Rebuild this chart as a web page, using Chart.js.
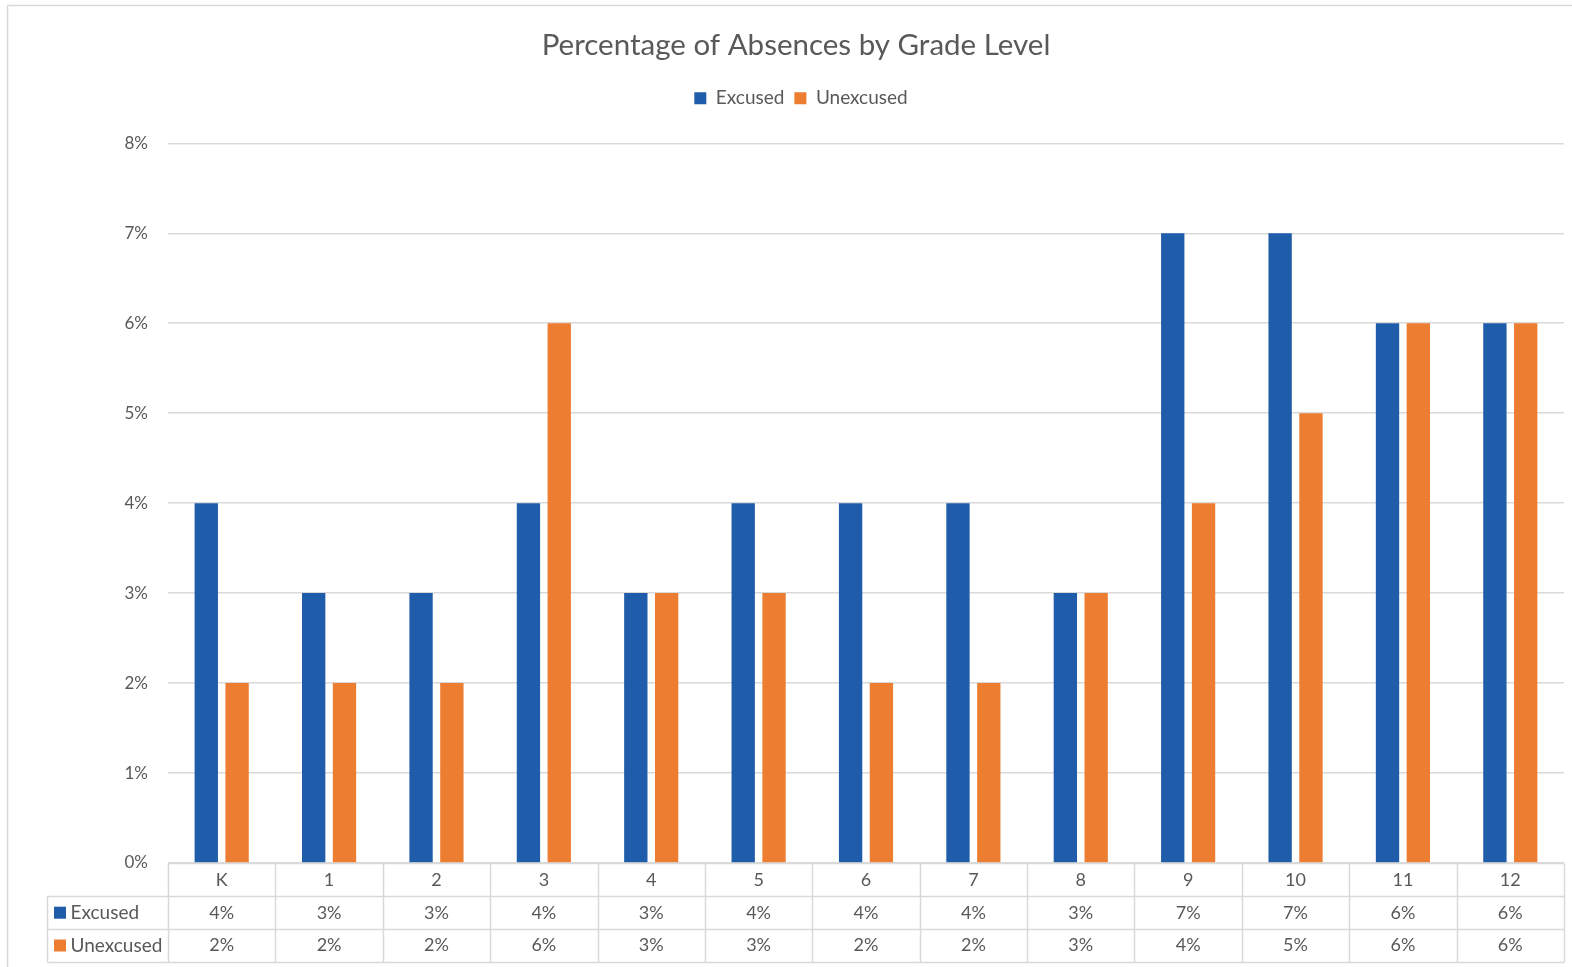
<!DOCTYPE html>
<html>
<head>
<meta charset="utf-8">
<script src="https://cdn.jsdelivr.net/npm/chart.js@4/dist/chart.umd.min.js"></script>
<style>
  html, body { margin: 0; padding: 0; background: #ffffff; }
  #wrap { width: 1572px; height: 967px; position: relative; }
</style>
</head>
<body>
<div id="wrap"><canvas id="c" width="1572" height="967"></canvas></div>
<script>
const categories = ['K', '1', '2', '3', '4', '5', '6', '7', '8', '9', '10', '11', '12'];
const excused   = [4, 3, 3, 4, 3, 4, 4, 4, 3, 7, 7, 6, 6];
const unexcused = [2, 2, 2, 6, 3, 3, 2, 2, 3, 4, 5, 6, 6];
const seriesNames = ['Excused', 'Unexcused'];
const yTicks = [0, 1, 2, 3, 4, 5, 6, 7, 8];

const BLUE = '#1F5CAA';
const ORANGE = '#ED7D31';
const TEXT = '#595959';
const LINE = '#D9D9D9';
const FONT = 'Lato, "Open Sans", sans-serif';

const borderPlugin = {
  id: 'outerBorder',
  beforeDraw(chart) {
    const ctx = chart.ctx;
    ctx.save();
    ctx.fillStyle = '#ffffff';
    ctx.fillRect(0, 0, chart.width, chart.height);
    ctx.strokeStyle = LINE;
    ctx.lineWidth = 1.5;
    ctx.beginPath();
    ctx.moveTo(7.5, chart.height + 5);
    ctx.lineTo(7.5, 5.5);
    ctx.lineTo(chart.width + 5, 5.5);
    ctx.stroke();
    ctx.restore();
  }
};

const legendGapPlugin = {
  id: 'legendGap',
  beforeInit(chart) {
    const lg = chart.legend;
    if (lg && !lg._gapWrapped) {
      const orig = lg.fit;
      lg.fit = function () { orig.call(this); this.height += 25.5; };
      lg._gapWrapped = true;
    }
  },
  afterLayout(chart) {
    // the original chart is wider than the visible frame: its title and legend sit right of centre
    if (chart.titleBlock) { chart.titleBlock.left += 28; }
    if (chart.legend) { chart.legend.left += 38; }
  }
};

const tablePlugin = {
  id: 'dataTable',
  afterDraw(chart) {
    const ctx = chart.ctx;
    const xs = chart.scales.x;
    const area = chart.chartArea;
    const n = categories.length;
    const w = (area.right - area.left) / n;
    const rowH = 32.8;
    const y0 = Math.round(area.bottom) + 0.5;
    const tableLeft = 47.5;
    const right = area.right;
    ctx.save();
    ctx.strokeStyle = LINE;
    ctx.lineWidth = 1.5;
    ctx.beginPath();
    ctx.moveTo(area.left, y0); ctx.lineTo(right, y0);
    for (let r = 1; r <= 3; r++) {
      const yy = Math.round(y0 + r * rowH) + 0.5;
      ctx.moveTo(tableLeft, yy); ctx.lineTo(right, yy);
    }
    const yEnd = Math.round(y0 + 3 * rowH) + 0.5;
    ctx.moveTo(tableLeft, Math.round(y0 + rowH) + 0.5); ctx.lineTo(tableLeft, yEnd);
    for (let i = 0; i <= n; i++) {
      const bx = Math.round(area.left + i * w) + 0.5;
      ctx.moveTo(bx, y0); ctx.lineTo(bx, yEnd);
    }
    ctx.stroke();

    ctx.fillStyle = TEXT;
    ctx.font = '18px ' + FONT;
    ctx.textAlign = 'center';
    ctx.textBaseline = 'middle';
    const rows = [excused, unexcused];
    categories.forEach((c, i) => {
      const cx = xs.getPixelForValue(i);
      ctx.fillText(c, cx, y0 + rowH / 2);
      rows.forEach((vals, r) => {
        ctx.fillText(vals[i] + '%', cx, y0 + rowH * (r + 1) + rowH / 2);
      });
    });
    ctx.textAlign = 'left';
    ctx.font = '19px ' + FONT;
    [BLUE, ORANGE].forEach((col, r) => {
      const cy = y0 + rowH * (r + 1) + rowH / 2;
      ctx.fillStyle = col;
      ctx.fillRect(54, cy - 6, 12, 12);
      ctx.fillStyle = TEXT;
      ctx.fillText(seriesNames[r], 70.5, cy);
    });
    ctx.restore();
  }
};

Chart.defaults.font.family = FONT;
Chart.defaults.color = TEXT;

new Chart(document.getElementById('c'), {
  type: 'bar',
  data: {
    labels: categories,
    datasets: [
      { label: seriesNames[0], data: excused, backgroundColor: BLUE, borderWidth: 0,
        categoryPercentage: 0.574, barPercentage: 0.757 },
      { label: seriesNames[1], data: unexcused, backgroundColor: ORANGE, borderWidth: 0,
        categoryPercentage: 0.574, barPercentage: 0.757 }
    ]
  },
  options: {
    responsive: false,
    animation: false,
    devicePixelRatio: 1,
    layout: { padding: { left: 0, right: 8, top: 0, bottom: 104 } },
    plugins: {
      title: {
        display: true,
        text: 'Percentage of Absences by Grade Level',
        color: TEXT,
        font: { size: 29.5, weight: 'normal', family: FONT },
        padding: { top: 28, bottom: 15.4 }
      },
      legend: {
        display: true,
        position: 'top',
        labels: { boxWidth: 12, boxHeight: 12, padding: 10, color: TEXT,
                  font: { size: 19, family: FONT } }
      },
      tooltip: { enabled: false }
    },
    scales: {
      x: {
        display: true,
        grid: { display: false, drawTicks: false },
        border: { display: false },
        ticks: { display: false }
      },
      y: {
        min: 0,
        max: 8,
        afterFit(scale) { scale.width = 168; },
        afterBuildTicks(scale) { scale.ticks = yTicks.map(v => ({ value: v })); },
        grid: { color: LINE, lineWidth: 1.5, drawTicks: false },
        border: { display: false },
        ticks: { padding: 20, color: TEXT, font: { size: 17, family: FONT },
                 callback: v => v + '%' }
      }
    }
  },
  plugins: [legendGapPlugin, borderPlugin, tablePlugin]
});
</script>
</body>
</html>
